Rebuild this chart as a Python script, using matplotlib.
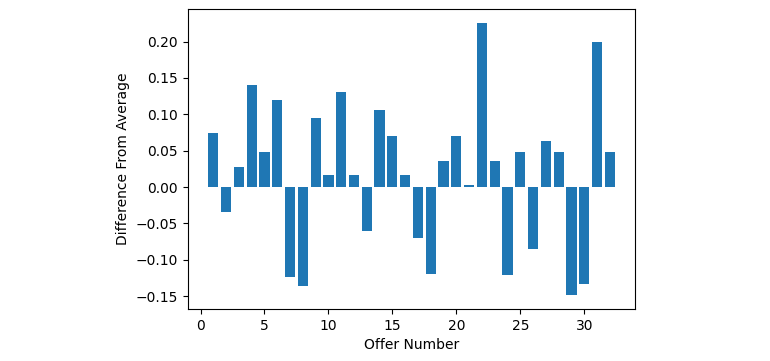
import matplotlib
matplotlib.use("Agg")
from matplotlib import pyplot as plt

offers = list(range(1, 33))
diff_from_avg = [0.074, -0.035, 0.027, 0.140, 0.048, 0.120, -0.124, -0.136,
                 0.095, 0.017, 0.131, 0.016, -0.060, 0.106, 0.070, 0.016,
                 -0.070, -0.119, 0.036, 0.070, 0.003, 0.226, 0.036, -0.121,
                 0.048, -0.085, 0.063, 0.048, -0.149, -0.134, 0.199, 0.048]

fig = plt.figure(figsize=(7.7, 3.61), dpi=100)
ax = fig.add_axes([0.244, 0.144, 0.581, 0.831])
ax.bar(offers, diff_from_avg)
ax.set_xlabel("Offer Number")
ax.set_ylabel("Difference From Average")
ax.set_yticks([-0.15, -0.10, -0.05, 0.00, 0.05, 0.10, 0.15, 0.20])

fig.savefig("out.png", dpi=100)
